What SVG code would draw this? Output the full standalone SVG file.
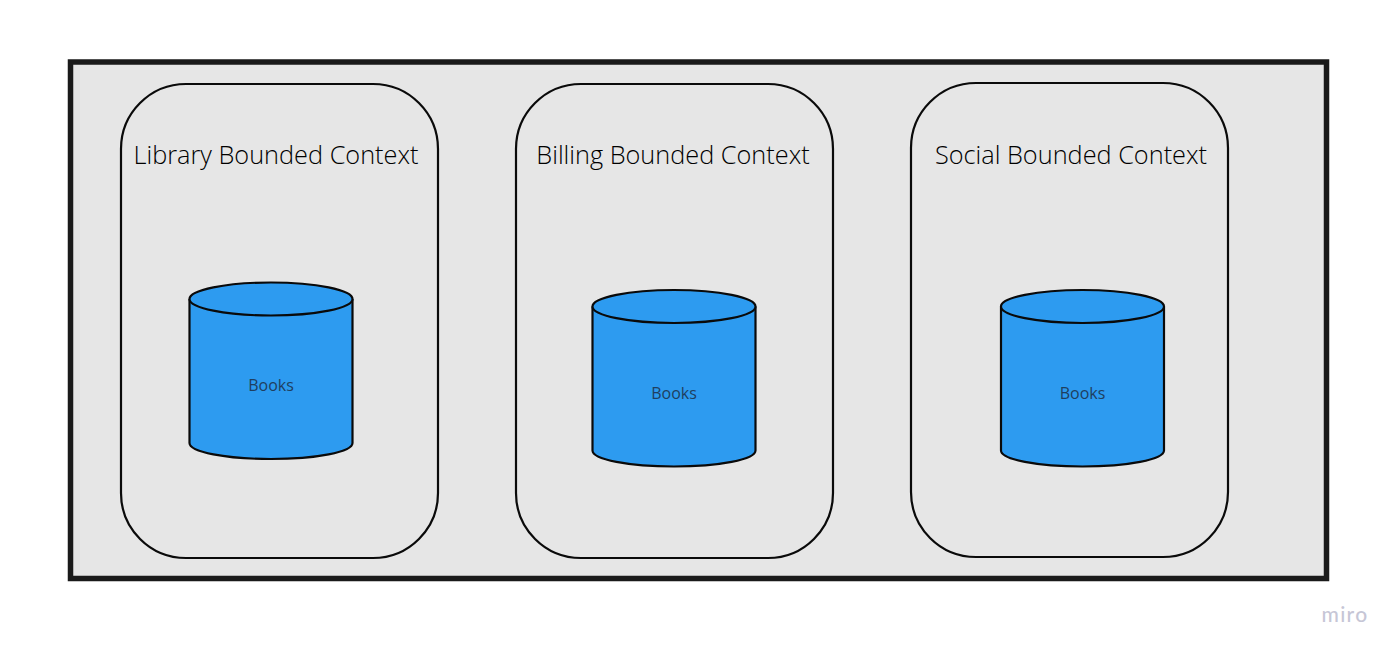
<svg xmlns="http://www.w3.org/2000/svg" width="1400" height="655" viewBox="0 0 1400 655">
<style>
.ctx{fill:#e6e6e6;stroke:#0a0a0a;stroke-width:2.2}
.cyl{fill:#2d9bf0;stroke:#0a0a0a;stroke-width:2.2}
.title{font-family:"Open Sans","Noto Sans",sans-serif;font-size:25.300px;font-weight:300;fill:#000;text-anchor:middle}
.lbl{font-family:"Open Sans","Noto Sans",sans-serif;font-size:16px;fill:#1f3f5f;text-anchor:middle}
</style>
<defs>
<g id="cylinder">
<path class="cyl" d="M-81.500,-72V72C-81.500,81 -45,88 0,88C45,88 81.500,81 81.500,72V-72"/>
<ellipse class="cyl" cx="0" cy="-72" rx="81.500" ry="16.500"/>
</g>
</defs>
<rect width="1400" height="655" fill="#fff"/>
<g id="frame"><rect x="70.500" y="62" width="1256" height="516.500" fill="#e6e6e6" stroke="#1a1a1a" stroke-width="5.500"/></g>
<g id="library">
<rect class="ctx" x="121" y="84" width="317" height="474" rx="65" ry="65"/>
<text class="title" x="276" y="164">Library Bounded Context</text>
<use href="#cylinder" x="271" y="371"/>
<text class="lbl" x="271" y="391">Books</text>
</g>
<g id="billing">
<rect class="ctx" x="516" y="84" width="317" height="474" rx="65" ry="65"/>
<text class="title" x="673" y="164">Billing Bounded Context</text>
<use href="#cylinder" x="674" y="378.500"/>
<text class="lbl" x="674" y="399">Books</text>
</g>
<g id="social">
<rect class="ctx" x="911" y="83" width="317" height="474" rx="65" ry="65"/>
<text class="title" x="1071" y="164">Social Bounded Context</text>
<use href="#cylinder" x="1082.500" y="378.500"/>
<text class="lbl" x="1082.500" y="399">Books</text>
</g>
<g id="connectors"></g>
<text id="watermark" x="1345" y="622" font-family="Lato,'Open Sans',sans-serif" font-size="21" letter-spacing="1.300" font-weight="500" fill="#c6c6d6" text-anchor="middle">miro</text>
</svg>
